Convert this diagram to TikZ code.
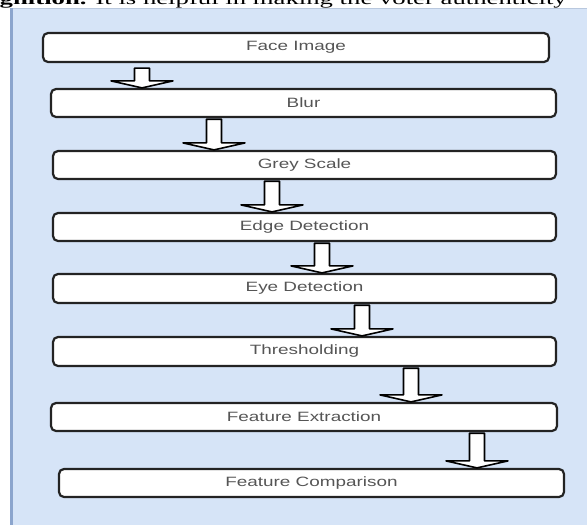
\documentclass[tikz,border=0pt]{standalone}
\usepackage{fontspec}
\setmainfont{Liberation Serif}
\newfontfamily\boxfont{Liberation Sans}
\usetikzlibrary{calc}
\definecolor{panelblue}{RGB}{214,228,247}
\definecolor{paneledge}{RGB}{140,165,205}
\definecolor{paneltop}{RGB}{185,200,222}
\definecolor{boxline}{RGB}{35,35,35}
\definecolor{labelgray}{RGB}{85,85,85}
\tikzset{
  stepbox/.style={draw=boxline, line width=2.2pt, rounded corners=5pt, fill=white,
    inner sep=0pt, font=\boxfont\fontsize{13.5}{16}\selectfont, text=labelgray},
  flowarrow/.style={draw=black, line width=1.6pt, fill=white, line join=round},
}
\newcommand\lbl[1]{\scalebox{1.4}[1]{#1}}
\newcommand\blockarrow[4]{% from node, to node, x of axis, gap below source
  \path (#1.south -| #3,0) coordinate (s) (#2.north -| #3,0) coordinate (t);
  \draw[flowarrow] ($(s)+(-7.5,#4)$) -- ($(t)+(-7.5,-7)$) -- ($(t)+(-31,-7)$) -- (t)
     -- ($(t)+(31,-7)$) -- ($(t)+(7.5,-7)$) -- ($(s)+(7.5,#4)$) -- cycle;
}
\begin{document}
\begin{tikzpicture}[x=1pt,y=-1pt]
\useasboundingbox (0,0) rectangle (587,525);
% panel
\fill[panelblue] (10,8) rectangle (587,525);
\draw[paneltop, line width=1pt] (10,8.5) -- (587,8.5);
\draw[paneledge, line width=2.5pt] (11.25,8) -- (11.25,525);
% cut-off line of running text
\begin{scope}
\clip (0,0) rectangle (587,525);
\node[anchor=base east, inner sep=0pt] (runtext) at (567,4) {\resizebox{567pt}{\height}{\fontsize{17}{20}\selectfont\textbf{gnition.} It is helpful in making the voter authenticity}};
\end{scope}
% steps
\node[stepbox, minimum width=506pt, minimum height=29pt] (face)  at (296,47.5)  {\lbl{Face Image}};
\node[stepbox, minimum width=505pt, minimum height=28pt] (blur)  at (303.5,103) {\lbl{Blur}};
\node[stepbox, minimum width=503pt, minimum height=28pt] (grey)  at (304.5,165) {\lbl{Grey Scale}};
\node[stepbox, minimum width=503pt, minimum height=28pt] (edge)  at (304.5,227) {\lbl{Edge Detection}};
\node[stepbox, minimum width=503pt, minimum height=29pt] (eye)   at (304.5,288.5) {\lbl{Eye Detection}};
\node[stepbox, minimum width=503pt, minimum height=29pt] (thr)   at (304.5,351.5) {\lbl{Thresholding}};
\node[stepbox, minimum width=506pt, minimum height=28pt] (feat)  at (304,417)   {\lbl{Feature Extraction}};
\node[stepbox, minimum width=505pt, minimum height=28pt] (comp)  at (311.5,483) {\lbl{Feature Comparison}};
% arrows
\blockarrow{face}{blur}{142}{5}
\blockarrow{blur}{grey}{214}{1.1}
\blockarrow{grey}{edge}{272}{1.1}
\blockarrow{edge}{eye}{322}{1.1}
\blockarrow{eye}{thr}{362}{1.1}
\blockarrow{thr}{feat}{411}{1.1}
\blockarrow{feat}{comp}{477}{1.1}
\end{tikzpicture}
\end{document}
